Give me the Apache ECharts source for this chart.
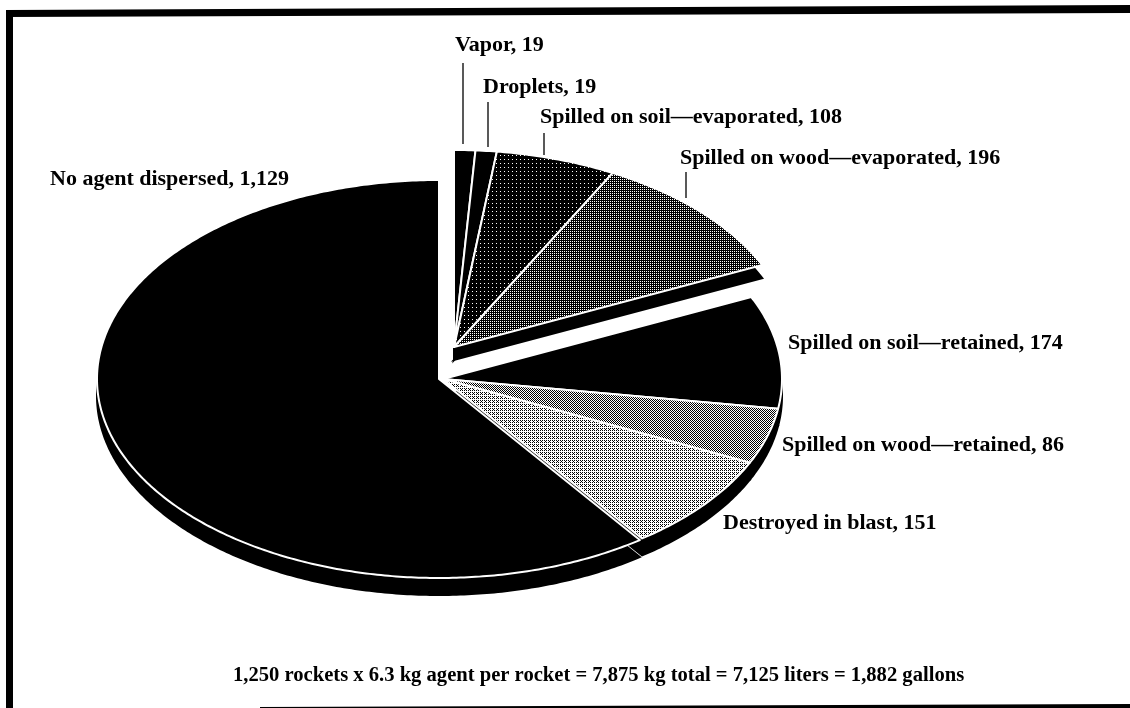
<!DOCTYPE html>
<html>
<head>
<meta charset="utf-8">
<title>Agent disposition</title>
<script src="https://cdn.jsdelivr.net/npm/echarts@6/dist/echarts.min.js"></script>
<style>
  html, body { margin: 0; padding: 0; background: #fff; }
  #main { width: 1130px; height: 708px; }
</style>
</head>
<body>
<div id="main"></div>
<script>
// values, clockwise from 12 o'clock
const categories = ['Vapor', 'Droplets', 'Spilled on soil\u2014evaporated', 'Spilled on wood\u2014evaporated',
  'Spilled on soil\u2014retained', 'Spilled on wood\u2014retained', 'Destroyed in blast', 'No agent dispersed'];
const gallons = [19, 19, 108, 196, 174, 86, 151, 1129];
const footnote = '1,250 rockets x 6.3 kg agent per rocket = 7,875 kg total = 7,125 liters = 1,882 gallons';

// tilted pie: each wedge belongs to one ellipse (the top group is pulled out)
const ellipses = {
  pulled: { cx: 454, cy: 347, rx: 339, ry: 197, depth: 13 },
  middle: { cx: 443, cy: 379, rx: 339, ry: 197, depth: 17 },
  rest: { cx: 439, cy: 379, rx: 342, ry: 199, depth: 17 }
};
const wedgeEllipse = ['pulled', 'pulled', 'pulled', 'pulled', 'middle', 'middle', 'middle', 'rest'];
// share of black ink in the dither of each wedge
const wedgeInk = [1, 1, 0.92, 0.75, 1, 0.5, 0.34, 1];

const labelSpots = [
  { x: 455, y: 45, from: [463, 63], to: [463, 144] },
  { x: 483, y: 87, from: [488, 102], to: [488, 147] },
  { x: 540, y: 117, from: [544, 133], to: [544, 155] },
  { x: 680, y: 158, from: [686, 172], to: [686, 198] },
  { x: 788, y: 343 },
  { x: 782, y: 445 },
  { x: 723, y: 523 },
  { x: 50, y: 179 }
];

const total = gallons.reduce((a, b) => a + b, 0);

function ditherTile(ink) {
  if (ink >= 1) return '#000';
  const bayer = [0, 8, 2, 10, 12, 4, 14, 6, 3, 11, 1, 9, 15, 7, 13, 5];
  const c = document.createElement('canvas');
  c.width = c.height = 4;
  const ctx = c.getContext('2d');
  ctx.fillStyle = '#fff';
  ctx.fillRect(0, 0, 4, 4);
  ctx.fillStyle = '#000';
  bayer.forEach((b, i) => {
    if ((b + 0.5) / 16 < ink) ctx.fillRect(i % 4, Math.floor(i / 4), 1, 1);
  });
  return { image: c, repeat: 'repeat' };
}
const wedgeFill = wedgeInk.map(ditherTile);

function wedgePoints(index, drop) {
  const e = ellipses[wedgeEllipse[index]];
  let before = 0;
  for (let i = 0; i < index; i++) before += gallons[i];
  const a0 = before / total * Math.PI * 2;
  const a1 = (before + gallons[index]) / total * Math.PI * 2;
  const cy = e.cy + (drop ? e.depth : 0);
  const pts = [[e.cx, cy]];
  const steps = Math.max(4, Math.ceil((a1 - a0) * 90));
  for (let s = 0; s <= steps; s++) {
    const a = a0 + (a1 - a0) * s / steps;
    pts.push([e.cx + e.rx * Math.sin(a), cy - e.ry * Math.cos(a)]);
  }
  return pts;
}

function renderSide(params, api) {
  const i = api.value(0);
  return { type: 'polygon', shape: { points: wedgePoints(i, true) }, style: { fill: '#000', stroke: '#000', lineWidth: 2 } };
}
function renderTop(params, api) {
  const i = api.value(0);
  return {
    type: 'polygon',
    shape: { points: wedgePoints(i, false) },
    style: { fill: wedgeFill[i], stroke: '#fff', lineWidth: 2, lineJoin: 'round' }
  };
}

const textFont = { fontFamily: 'Liberation Serif', fontWeight: 'bold', fill: '#000' };
const labelGraphics = categories.map((name, i) => ({
  type: 'text',
  z: 10,
  x: labelSpots[i].x,
  y: labelSpots[i].y,
  style: Object.assign({
    text: name + ', ' + gallons[i].toLocaleString('en-US'),
    fontSize: 22,
    textVerticalAlign: 'middle'
  }, textFont)
}));
const leaderGraphics = labelSpots.filter(s => s.from).map(s => ({
  type: 'line',
  z: 10,
  shape: { x1: s.from[0], y1: s.from[1], x2: s.to[0], y2: s.to[1] },
  style: { stroke: '#222', lineWidth: 1.5 }
}));
const frameGraphics = [
  [[6, 10], [1130, 5], [1130, 13], [6, 17]],
  [[6, 10], [13, 10], [13, 708], [6, 708]],
  [[260, 707], [1130, 704], [1130, 708], [260, 708]]
].map(points => ({ type: 'polygon', z: 10, shape: { points }, style: { fill: '#000' } }));

const chart = echarts.init(document.getElementById('main'), null, { renderer: 'canvas' });
const rows = gallons.map((v, i) => [i, v]);
chart.setOption({
  animation: false,
  backgroundColor: '#fff',
  series: [
    { type: 'custom', coordinateSystem: 'none', z: 1, silent: true, data: rows, renderItem: renderSide },
    { type: 'custom', coordinateSystem: 'none', z: 2, silent: true, data: rows, renderItem: renderTop }
  ],
  graphic: frameGraphics.concat(leaderGraphics, labelGraphics, [{
    type: 'text',
    z: 10,
    x: 233,
    y: 676,
    style: Object.assign({ text: footnote, fontSize: 20.6, textVerticalAlign: 'middle' }, textFont)
  }])
});
</script>
</body>
</html>
